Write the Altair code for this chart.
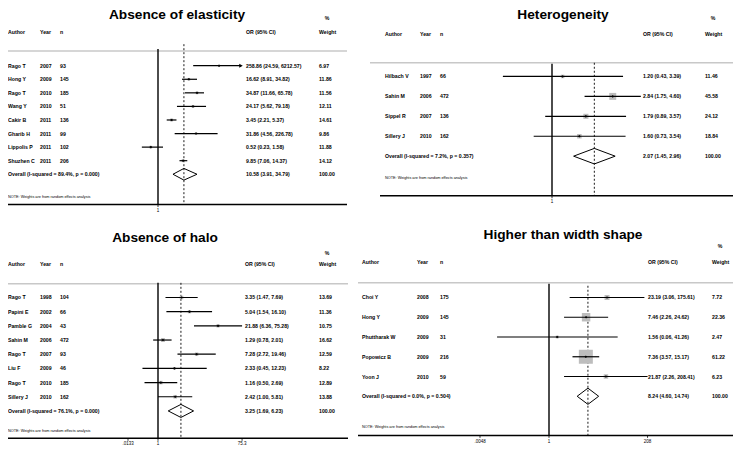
import altair as alt
import pandas as pd

FONT = "Liberation Sans"

# ---------------- data ----------------
# Absence of elasticity
tl_authors = ["Rago T", "Hong Y", "Rago T", "Wang Y", "Cakir B", "Gharib H", "Lippolis P", "Shuzhen C"]
tl_years = [2007, 2009, 2010, 2010, 2011, 2011, 2011, 2011]
tl_n = [93, 145, 185, 51, 136, 99, 102, 206]
tl_or = [258.86, 16.62, 34.87, 24.17, 3.45, 31.86, 0.52, 9.85]
tl_lo = [24.59, 8.91, 11.66, 5.62, 2.21, 4.56, 0.23, 7.06]
tl_hi = [6212.57, 34.82, 65.78, 79.18, 5.37, 226.78, 1.58, 14.37]
tl_w = [6.97, 11.86, 11.56, 12.11, 14.61, 9.86, 11.88, 14.12]
tl_overall = [10.58, 3.91, 34.79]
tl_overall_label = "Overall  (I-squared = 89.4%, p = 0.000)"
tl_ticks = [1.0]
tl_tick_labels = ["1"]

# Heterogeneity
tr_authors = ["Hilbach V", "Sahin M", "Sippel R", "Sillery J"]
tr_years = [1997, 2006, 2007, 2010]
tr_n = [66, 472, 136, 162]
tr_or = [1.20, 2.84, 1.79, 1.60]
tr_lo = [0.43, 1.75, 0.89, 0.73]
tr_hi = [3.39, 4.60, 3.57, 3.54]
tr_w = [11.46, 45.58, 24.12, 18.84]
tr_overall = [2.07, 1.45, 2.96]
tr_overall_label = "Overall  (I-squared = 7.2%, p = 0.357)"
tr_ticks = [1.0]
tr_tick_labels = ["1"]

# Absence of halo
bl_authors = ["Rago T", "Papini E", "Pamble G", "Sahin M", "Rago T", "Liu F", "Rago T", "Sillery J"]
bl_years = [1998, 2002, 2004, 2006, 2007, 2009, 2010, 2010]
bl_n = [104, 66, 43, 472, 93, 46, 185, 162]
bl_or = [3.35, 5.04, 21.88, 1.29, 7.28, 2.33, 1.16, 2.42]
bl_lo = [1.47, 1.54, 6.36, 0.78, 2.72, 0.45, 0.50, 1.00]
bl_hi = [7.69, 16.10, 75.28, 2.01, 19.46, 12.23, 2.69, 5.81]
bl_w = [13.69, 11.36, 10.75, 16.62, 12.59, 8.22, 12.89, 13.88]
bl_overall = [3.25, 1.69, 6.23]
bl_overall_label = "Overall  (I-squared = 76.1%, p = 0.000)"
bl_ticks = [0.0133, 1.0, 75.28]
bl_tick_labels = [".0133", "1", "75.3"]

# Higher than width shape
br_authors = ["Choi Y", "Hong Y", "Phuttharak W", "Popowicz B", "Yoon J"]
br_years = [2008, 2009, 2009, 2009, 2010]
br_n = [175, 145, 31, 216, 59]
br_or = [23.19, 7.46, 1.56, 7.36, 21.87]
br_lo = [3.06, 2.26, 0.06, 3.57, 2.26]
br_hi = [175.61, 24.62, 41.26, 15.17, 208.41]
br_w = [7.72, 22.36, 2.47, 61.22, 6.23]
br_overall = [8.24, 4.60, 14.74]
br_overall_label = "Overall  (I-squared = 0.0%, p = 0.504)"
br_ticks = [0.0048, 1.0, 208.41]
br_tick_labels = [".0048", "1", "208"]

footnote = "NOTE: Weights are from random effects analysis"


# ---------------- layout helpers (reference pixels -> chart pixels) ----------------
def X(r):
    return r - 8


def Y(r):
    return (r - 6) * 0.978


dummy = pd.DataFrame({"k": [0]})

LAYOUTS = {
    "tl": dict(title="Absence of elasticity", title_x=177, title_y=17, pct_y=16, head_y=31,
               grey_y=50, line_x=(8, 347), row0=65, rowo=176, foot_y=199, axis_y=207,
               null_top=48, dash_top=43, cols=(8, 40, 60, 246, 319), x1=158, d=25.3,
               L=128, R=241, box=(15.0, 9.0), dia=0.43),
    "tr": dict(title="Heterogeneity", title_x=563, title_y=17, pct_y=16, head_y=33,
               grey_y=62, line_x=(370, 738), row0=76, rowo=157.5, foot_y=180, axis_y=198,
               null_top=63, dash_top=62, cols=(385, 420, 440, 643, 705), x1=552, d=134.0,
               L=490, R=642, box=(46.0, 49.0), dia=0.39, axis_x=(380, 738)),
    "bl": dict(title="Absence of halo", title_x=165, title_y=245, pct_y=256, head_y=268,
               grey_y=288, line_x=(8, 348), row0=302, rowo=418, foot_y=439, axis_y=446,
               null_top=287, dash_top=287, cols=(8, 40, 60, 245, 319), x1=158, d=44.8,
               L=128, R=245, box=(17.0, 16.0), dia=0.46),
    "br": dict(title="Higher than width shape", title_x=563, title_y=242, pct_y=249, head_y=266,
               grey_y=287, line_x=(358, 738), row0=302, rowo=403, foot_y=434, axis_y=443,
               null_top=288, dash_top=290, cols=(362, 417, 440, 648, 712), x1=549, d=42.5,
               L=480, R=652, box=(61.22, 196.0), dia=0.41),
}

FS = 5.2


def txt(text, x, y, size=FS, align="left", weight="bold", baseline="middle"):
    return alt.Chart(dummy).mark_text(
        text=text, font=FONT, fontSize=size, fontWeight=weight, align=align,
        baseline=baseline, color="black"
    ).encode(x=alt.value(X(x)), y=alt.value(Y(y)))


def hline(x0, x1, y, color="black", width=1.5):
    return alt.Chart(dummy).mark_rule(color=color, strokeWidth=width).encode(
        x=alt.value(X(x0)), x2=alt.value(X(x1)), y=alt.value(Y(y))
    )


def panel(lay, authors, years, ns, ors, los, his, ws, overall, ov_label, ticks, tick_labels):
    n = len(authors)
    xmin = 10 ** ((lay["L"] - lay["x1"]) / lay["d"])
    xmax = 10 ** ((lay["R"] - lay["x1"]) / lay["d"])
    xs = alt.Scale(type="log", domain=[xmin, xmax], range=[X(lay["L"]), X(lay["R"])], clamp=True)
    ys = alt.Scale(domain=[0, n], range=[Y(lay["row0"]), Y(lay["rowo"])], zero=False, nice=False)
    xq = lambda f: alt.X(f, scale=xs, axis=None)
    yq = alt.Y("row:Q", scale=ys, axis=None)

    studies = pd.DataFrame({
        "author": authors, "year": [str(v) for v in years], "n": [str(v) for v in ns],
        "or": ors, "lo": los, "hi": his, "w": ws, "row": list(range(n)),
    })
    studies["ortext"] = [f"{a:.2f} ({b:.2f}, {c:.2f})" for a, b, c in zip(ors, los, his)]
    studies["wtext"] = [f"{v:.2f}" for v in ws]
    ov = pd.DataFrame({
        "author": [ov_label], "or": [overall[0]], "lo": [overall[1]], "hi": [overall[2]], "row": [n],
        "ortext": [f"{overall[0]:.2f} ({overall[1]:.2f}, {overall[2]:.2f})"], "wtext": ["100.00"],
    })
    allrows = pd.concat([studies, ov], ignore_index=True)

    h = lay["dia"]
    diamond = pd.DataFrame({
        "x": [overall[1], overall[0], overall[2], overall[0], overall[1]],
        "row": [n, n - h, n, n + h, n],
        "ord": [0, 1, 2, 3, 4],
    })
    arrows = studies[studies["hi"] > xmax]
    tick_df = pd.DataFrame({"v": ticks, "lab": tick_labels})
    one = pd.DataFrame({"v": [1.0]})

    c = lay["cols"]
    ax0 = lay.get("axis_x", lay["line_x"])
    L = []
    # title & headers
    L.append(txt(lay["title"], lay["title_x"], lay["title_y"], size=13.7, align="center",
                 baseline="alphabetic"))
    L.append(txt("%", c[4] + 8, lay["pct_y"], align="center"))
    for label, cx in zip(["Author", "Year", "n", "OR (95% CI)", "Weight"], c):
        L.append(txt(label, cx, lay["head_y"]))
    L.append(hline(lay["line_x"][0], lay["line_x"][1], lay["grey_y"], color="#c8c8c8", width=1.6))
    # text columns
    tmark = dict(font=FONT, fontSize=FS, fontWeight="bold", align="left", baseline="middle", color="black")
    L.append(alt.Chart(allrows).mark_text(**tmark).encode(x=alt.value(X(c[0])), y=yq, text="author:N"))
    L.append(alt.Chart(studies).mark_text(**tmark).encode(x=alt.value(X(c[1])), y=yq, text="year:N"))
    L.append(alt.Chart(studies).mark_text(**tmark).encode(x=alt.value(X(c[2])), y=yq, text="n:N"))
    L.append(alt.Chart(allrows).mark_text(**tmark).encode(x=alt.value(X(c[3])), y=yq, text="ortext:N"))
    L.append(alt.Chart(allrows).mark_text(**tmark).encode(x=alt.value(X(c[4])), y=yq, text="wtext:N"))
    # reference lines
    L.append(alt.Chart(one).mark_rule(color="black", strokeWidth=1.4).encode(
        x=xq("v:Q"), y=alt.value(Y(lay["null_top"])), y2=alt.value(Y(lay["axis_y"]))))
    L.append(alt.Chart(ov).mark_rule(color="black", strokeWidth=0.9, strokeDash=[2, 2]).encode(
        x=xq("or:Q"), y=alt.value(Y(lay["dash_top"])), y2=alt.value(Y(lay["axis_y"]))))
    # weight boxes, CIs, estimates
    L.append(alt.Chart(studies).mark_square(color="#bdbdbd", opacity=1).encode(
        x=xq("or:Q"), y=yq,
        size=alt.Size("w:Q", scale=alt.Scale(domain=[0, lay["box"][0]], range=[0, lay["box"][1]]), legend=None)))
    L.append(alt.Chart(studies).mark_rule(color="black", strokeWidth=1.2).encode(
        x=xq("lo:Q"), x2="hi:Q", y=yq))
    L.append(alt.Chart(studies).mark_point(shape="diamond", filled=True, size=7, color="black", opacity=1).encode(
        x=xq("or:Q"), y=yq))
    if len(arrows):
        L.append(alt.Chart(arrows).mark_point(shape="triangle-right", filled=True, size=16, color="black",
                                              opacity=1).encode(x=xq("hi:Q"), y=yq))
    # pooled diamond
    L.append(alt.Chart(diamond).mark_line(color="black", strokeWidth=1.0).encode(
        x=xq("x:Q"), y=alt.Y("row:Q", scale=ys, axis=None), order="ord:Q"))
    # footnote and axis
    L.append(txt(footnote, c[0], lay["foot_y"], size=3.8, weight="normal"))
    L.append(hline(ax0[0], ax0[1], lay["axis_y"], width=1.5))
    L.append(alt.Chart(tick_df).mark_rule(color="black", strokeWidth=0.8).encode(
        x=xq("v:Q"), y=alt.value(Y(lay["axis_y"])), y2=alt.value(Y(lay["axis_y"] + 2.5))))
    L.append(alt.Chart(tick_df).mark_text(font=FONT, fontSize=4.5, baseline="top", align="center",
                                          color="black").encode(
        x=xq("v:Q"), y=alt.value(Y(lay["axis_y"] + 3.2)), text="lab:N"))
    return L


layers = []
layers += panel(LAYOUTS["tl"], tl_authors, tl_years, tl_n, tl_or, tl_lo, tl_hi, tl_w, tl_overall,
                tl_overall_label, tl_ticks, tl_tick_labels)
layers += panel(LAYOUTS["tr"], tr_authors, tr_years, tr_n, tr_or, tr_lo, tr_hi, tr_w, tr_overall,
                tr_overall_label, tr_ticks, tr_tick_labels)
layers += panel(LAYOUTS["bl"], bl_authors, bl_years, bl_n, bl_or, bl_lo, bl_hi, bl_w, bl_overall,
                bl_overall_label, bl_ticks, bl_tick_labels)
layers += panel(LAYOUTS["br"], br_authors, br_years, br_n, br_or, br_lo, br_hi, br_w, br_overall,
                br_overall_label, br_ticks, br_tick_labels)

chart = alt.layer(*layers).resolve_scale(
    x="independent", y="independent", size="independent"
).properties(
    width=725, height=440, padding=0, autosize=alt.AutoSizeParams(type="none")
).configure_view(stroke=None)

chart.save("out.html", embed_options={"renderer": "svg", "actions": False})
